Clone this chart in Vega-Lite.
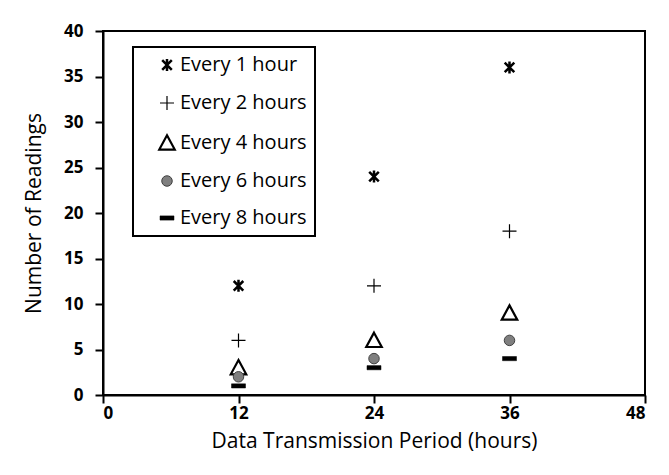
{
  "$schema": "https://vega.github.io/schema/vega-lite/v6.json",
  "width": 542,
  "height": 364,
  "autosize": {"type": "none"},
  "padding": {"left": 103, "top": 31, "right": 24, "bottom": 80},
  "background": "white",
  "data": {
    "values": [
      {"period": 12, "readings": 12, "series": "Every 1 hour"},
      {"period": 24, "readings": 24, "series": "Every 1 hour"},
      {"period": 36, "readings": 36, "series": "Every 1 hour"},
      {"period": 12, "readings": 6, "series": "Every 2 hours"},
      {"period": 24, "readings": 12, "series": "Every 2 hours"},
      {"period": 36, "readings": 18, "series": "Every 2 hours"},
      {"period": 12, "readings": 3, "series": "Every 4 hours"},
      {"period": 24, "readings": 6, "series": "Every 4 hours"},
      {"period": 36, "readings": 9, "series": "Every 4 hours"},
      {"period": 12, "readings": 2, "series": "Every 6 hours"},
      {"period": 24, "readings": 4, "series": "Every 6 hours"},
      {"period": 36, "readings": 6, "series": "Every 6 hours"},
      {"period": 12, "readings": 1, "series": "Every 8 hours"},
      {"period": 24, "readings": 3, "series": "Every 8 hours"},
      {"period": 36, "readings": 4, "series": "Every 8 hours"}
    ]
  },
  "mark": {"type": "point", "opacity": 1},
  "encoding": {
    "x": {
      "field": "period",
      "type": "quantitative",
      "scale": {"domain": [0, 48], "nice": false, "zero": true},
      "axis": {"values": [0, 12, 24, 36, 48], "title": "Data Transmission Period (hours)"}
    },
    "y": {
      "field": "readings",
      "type": "quantitative",
      "scale": {"domain": [0, 40], "nice": false},
      "axis": {"values": [0, 5, 10, 15, 20, 25, 30, 35, 40], "title": "Number of Readings"}
    },
    "shape": {
      "field": "series",
      "type": "nominal",
      "scale": {
        "domain": ["Every 1 hour", "Every 2 hours", "Every 4 hours", "Every 6 hours", "Every 8 hours"],
        "range": [
          "M-0.8,-0.8L0.8,0.8M-0.8,0.8L0.8,-0.8M0,-1L0,1",
          "M-1,0L1,0M0,-1L0,1",
          "M0,-1L1,0.85L-1,0.85Z",
          "circle",
          "M-1,-0.3L1,-0.3L1,0.3L-1,0.3Z"
        ]
      },
      "legend": {"title": null}
    },
    "size": {
      "field": "series",
      "type": "nominal",
      "scale": {
        "type": "ordinal",
        "domain": ["Every 1 hour", "Every 2 hours", "Every 4 hours", "Every 6 hours", "Every 8 hours"],
        "range": [144, 196, 240, 110, 196]
      },
      "legend": {"title": null}
    },
    "fill": {
      "field": "series",
      "type": "nominal",
      "scale": {
        "domain": ["Every 1 hour", "Every 2 hours", "Every 4 hours", "Every 6 hours", "Every 8 hours"],
        "range": ["black", "transparent", "white", "#7f7f7f", "black"]
      },
      "legend": {"title": null}
    },
    "stroke": {
      "field": "series",
      "type": "nominal",
      "scale": {
        "domain": ["Every 1 hour", "Every 2 hours", "Every 4 hours", "Every 6 hours", "Every 8 hours"],
        "range": ["black", "black", "black", "#404040", "black"]
      },
      "legend": {"title": null}
    },
    "strokeWidth": {
      "field": "series",
      "type": "nominal",
      "scale": {
        "type": "ordinal",
        "domain": ["Every 1 hour", "Every 2 hours", "Every 4 hours", "Every 6 hours", "Every 8 hours"],
        "range": [2.5, 1.2, 2.2, 1, 0.5]
      },
      "legend": {"title": null}
    }
  },
  "config": {
    "view": {"stroke": "black", "strokeWidth": 2},
    "font": "Open Sans",
    "axis": {
      "grid": false,
      "domainColor": "black",
      "domainWidth": 2,
      "tickColor": "black",
      "tickWidth": 2,
      "tickSize": 8,
      "labelColor": "black",
      "labelFont": "Open Sans",
      "labelFontWeight": "bold",
      "labelFontSize": 17,
      "titleColor": "black",
      "titleFont": "Open Sans",
      "titleFontWeight": "normal",
      "titleFontSize": 21
    },
    "axisX": {"labelPadding": 2, "titlePadding": 9},
    "axisY": {"labelPadding": 12, "titlePadding": 19},
    "legend": {
      "orient": "none",
      "legendX": 30,
      "legendY": 16,
      "strokeColor": "black",
      "strokeWidth": 2,
      "fillColor": "white",
      "padding": 8,
      "rowPadding": 17,
      "symbolOffset": 16,
      "labelOffset": 3,
      "labelFont": "Open Sans",
      "labelFontSize": 20,
      "labelColor": "black",
      "symbolOpacity": 1
    }
  }
}
